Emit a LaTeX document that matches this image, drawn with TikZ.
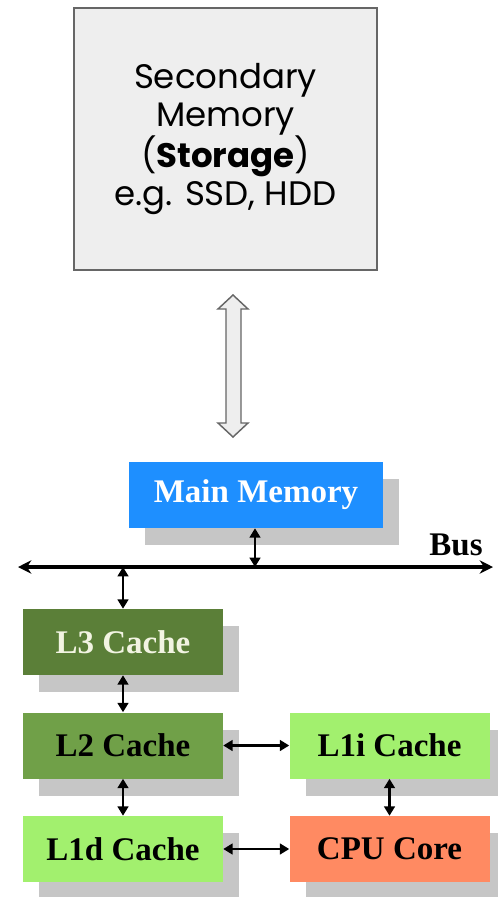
\documentclass[tikz,border=0pt]{standalone}
\usepackage{fontspec}
\setmainfont{Liberation Serif}
\newfontfamily\slidefont{Poppins}
\usetikzlibrary{arrows.meta,shadows}

\definecolor{boxgray}{HTML}{EEEEEE}
\definecolor{edgegray}{HTML}{666666}
\definecolor{shadowgray}{HTML}{C6C6C6}
\definecolor{mainblue}{HTML}{1E8FFF}
\definecolor{lthree}{HTML}{5B7F38}
\definecolor{ltwo}{HTML}{70A048}
\definecolor{lone}{HTML}{A2F06E}
\definecolor{coreorange}{HTML}{FF8A62}
\definecolor{palewhite}{HTML}{F2F4E2}

\begin{document}
\begin{tikzpicture}[x=0.75pt,y=-0.75pt,
  unit/.style={draw=none, minimum width=150pt, minimum height=49.5pt,
    inner sep=0pt, font=\fontsize{24.75}{26}\selectfont\bfseries,
    drop shadow={shadow xshift=12pt, shadow yshift=-12.75pt,
      fill=shadowgray, opacity=1}},
  link/.style={line width=1.7pt, {Triangle[length=7pt,width=8pt]}-{Triangle[length=7pt,width=8pt]}},
  busline/.style={line width=3.2pt, {Stealth[length=10pt,width=10pt]}-{Stealth[length=10pt,width=10pt]}}
]
\useasboundingbox (0,0) rectangle (497,897);

% secondary storage
\node[draw=edgegray, fill=boxgray, line width=1.1pt,
  minimum width=227.25pt, minimum height=196.5pt, inner sep=0pt,
  align=center, font=\slidefont\fontsize{25.5}{28.5}\selectfont]
  (storage) at (225.5,139)
  {Secondary\\Memory\\(\textbf{Storage})\\e.g. SSD, HDD};

% hollow two-way block arrow between storage and main memory
\coordinate (baTop) at (233,295);
\coordinate (baBot) at (233,437);
\draw[fill=boxgray, draw=edgegray, line width=1.1pt, line join=miter]
  (baTop) -- ++(15,14) -- ++(-7,0) -- ++(0,114) -- ++(7,0)
  -- (baBot) -- ++(-15,-14) -- ++(8,0) -- ++(0,-114) -- ++(-8,0) -- cycle;

% memory hierarchy
\node[unit, fill=mainblue, text=white, minimum width=190.5pt] (main) at (256,495) {Main Memory};
\node[unit, fill=lthree, text=palewhite] (l3) at (123,642) {L3 Cache};
\node[unit, fill=ltwo] (l2) at (123,745.5) {L2 Cache};
\node[unit, fill=lone] (l1d) at (123,849) {L1d Cache};
\node[unit, fill=lone] (l1i) at (389.5,745.5) {L1i Cache};
\node[unit, fill=coreorange] (cpu) at (389.5,849) {CPU Core};

% system bus
\coordinate (busL) at (18,567);
\coordinate (busR) at (493,567);
\draw[busline] (busL) -- (busR);
\node[font=\fontsize{24.75}{26}\selectfont\bfseries, inner sep=0pt] (buslabel) at (456,545) {Bus};

% connections
\draw[link] (main.south -| 255,0) -- (busL -| 255,0);
\draw[link] (busL -| l3.north) -- (l3.north);
\draw[link] (l3) -- (l2);
\draw[link] (l2) -- (l1d);
\draw[link] (l1i) -- (cpu);
\draw[link] (l2) -- (l1i);
\draw[link] (l1d) -- (cpu);
\end{tikzpicture}
\end{document}
